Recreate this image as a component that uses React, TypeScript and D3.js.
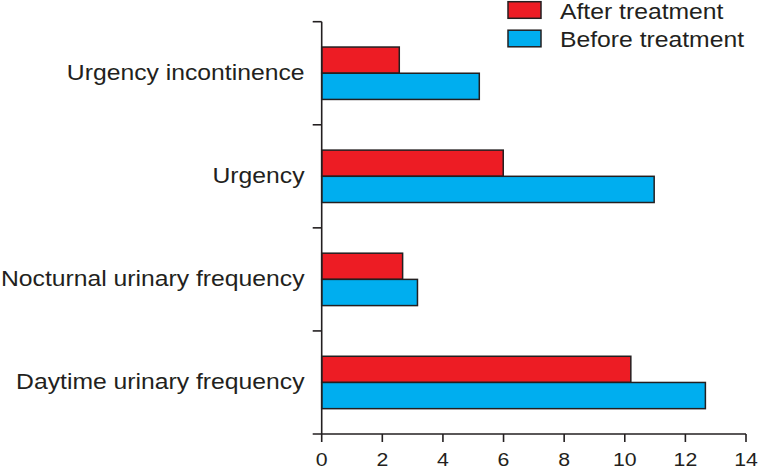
import React from "react";
import * as d3 from "d3";

const categories = [
  "Urgency incontinence",
  "Urgency",
  "Nocturnal urinary frequency",
  "Daytime urinary frequency",
];
const seriesNames = ["After treatment", "Before treatment"];
const afterValues = [2.56, 5.99, 2.67, 10.2];
const beforeValues = [5.2, 10.97, 3.16, 12.66];
const xTicks = [0, 2, 4, 6, 8, 10, 12, 14];
const colors = ["#ED1C24", "#00AEEF"];

const W = 760;
const H = 470;
const x0 = 321.7;
const x1 = 746;
const yTop = 21.7;
const yBot = 434;
const stroke = "#231F20";
const font = "'Liberation Sans', Arial, Helvetica, sans-serif";
const SX = 1.15;

export default function App() {
  const x = d3.scaleLinear().domain([0, 14]).range([x0, x1]);
  const y = d3.scaleBand<string>().domain(categories).range([yTop, yBot]).padding(0);
  const bandH = y.bandwidth();
  const inner = d3
    .scaleBand<string>()
    .domain(seriesNames)
    .range([bandH / 2 - 26.2, bandH / 2 + 26.2])
    .padding(0);
  const series = [afterValues, beforeValues];
  const boundaries = categories.map((c) => y(c) as number);

  return (
    <svg width={W} height={H} style={{ position: "absolute", left: 0, top: 0, background: "#fff" }}>
      {/* bars */}
      {categories.map((c, i) => (
        <g key={c} transform={`translate(0,${y(c)})`}>
          {seriesNames.map((s, si) => (
            <rect
              key={s}
              x={x(0)}
              y={inner(s)}
              width={x(series[si][i]) - x(0)}
              height={inner.bandwidth()}
              fill={colors[si]}
              stroke={stroke}
              strokeWidth={1.5}
            />
          ))}
        </g>
      ))}
      {/* y axis */}
      <line x1={x0} x2={x0} y1={yTop} y2={yBot} stroke={stroke} strokeWidth={1.6} />
      {boundaries.map((b, i) => (
        <line key={i} x1={x0 - 9} x2={x0} y1={b} y2={b} stroke={stroke} strokeWidth={1.6} />
      ))}
      {/* x axis */}
      <line x1={x0 - 9} x2={x1} y1={yBot} y2={yBot} stroke={stroke} strokeWidth={1.6} />
      {xTicks.map((t) => (
        <g key={t}>
          <line x1={x(t)} x2={x(t)} y1={yBot} y2={yBot + 8} stroke={stroke} strokeWidth={1.6} />
          <g transform={`translate(${x(t)},${466}) scale(${SX},1)`}>
            <text textAnchor="middle" fontFamily={font} fontSize={18.5} fill={stroke}>
              {t}
            </text>
          </g>
        </g>
      ))}
      {/* category labels */}
      {categories.map((c) => (
        <g key={c} transform={`translate(304.5,${(y(c) as number) + bandH / 2 + 6.8}) scale(${SX},1)`}>
          <text textAnchor="end" fontFamily={font} fontSize={21.5} fill={stroke}>
            {c}
          </text>
        </g>
      ))}
      {/* legend */}
      {seriesNames.map((s, si) => (
        <g key={s} transform={`translate(508,${1.7 + si * 28.5})`}>
          <rect x={0} y={0} width={33} height={16.6} fill={colors[si]} stroke={stroke} strokeWidth={1.5} />
          <g transform={`translate(52,16.8) scale(${SX},1)`}>
            <text fontFamily={font} fontSize={21.5} fill={stroke}>
              {s}
            </text>
          </g>
        </g>
      ))}
    </svg>
  );
}
